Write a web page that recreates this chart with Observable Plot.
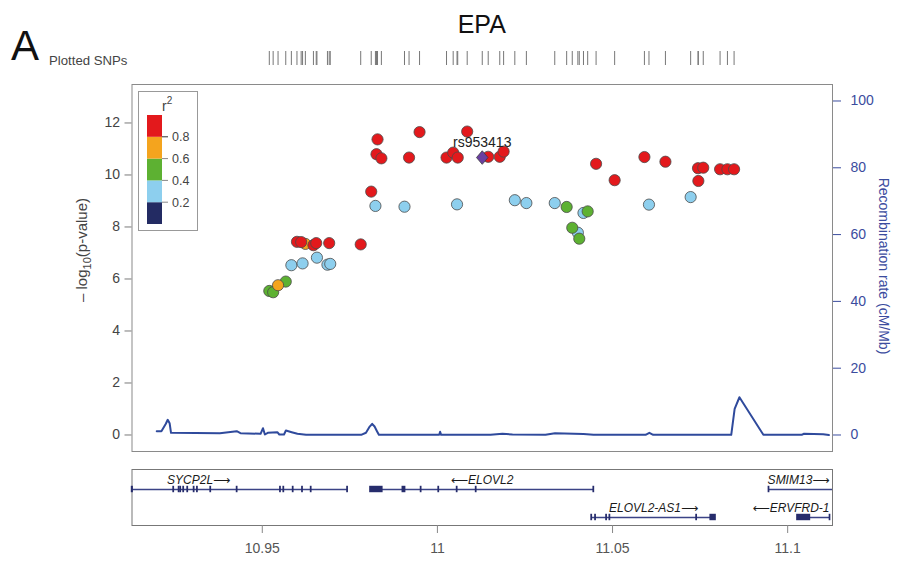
<!DOCTYPE html>
<html>
<head>
<meta charset="utf-8">
<script src="https://cdn.jsdelivr.net/npm/d3@7"></script>
<script src="https://cdn.jsdelivr.net/npm/@observablehq/plot@0.6"></script>
<style>
  body { margin: 0; background: #fff; font-family: 'Liberation Sans', Arial, sans-serif; }
  #chart { position: relative; width: 900px; height: 570px; overflow: hidden; background: #fff; }
  #chart > svg { position: absolute; left: 0; }
</style>
</head>
<body>
<div id="chart"></div>
<script>
// ---- Region shown (chr6, Mb) ----
const xDomain = [10.9128, 11.1128];

// ---- Association results: position (Mb), -log10(p), r² with the lead SNP ----
const snpPos = [
  10.9520, 10.9531, 10.9545, 10.9567, 10.9583, 10.9615, 10.9656, 10.9686, 10.9694,
  10.9599, 10.9611, 10.9623, 10.9646, 10.9654, 10.9691, 10.9781, 10.9811, 10.9823,
  10.9826, 10.9829, 10.9840, 10.9906, 10.9919, 10.9949, 11.0026, 11.0045, 11.0058,
  11.0056, 11.0085, 11.0145, 11.0178, 11.0189, 11.0221, 11.0254, 11.0335, 11.0369,
  11.0417, 11.0429, 11.0385, 11.0401, 11.0405, 11.0453, 11.0506, 11.0591, 11.0604,
  11.0651, 11.0723, 11.0744, 11.0759, 11.0745, 11.0807, 11.0828, 11.0847
];
const snpLogP = [
  5.54, 5.49, 5.76, 5.90, 6.53, 6.60, 6.82, 6.55, 6.58,
  7.43, 7.42, 7.35, 7.30, 7.38, 7.38, 7.33, 9.36, 8.81,
  10.80, 11.37, 10.64, 8.78, 10.67, 11.65, 10.67, 10.86, 10.67,
  8.87, 11.67, 10.70, 10.70, 10.90, 9.03, 8.92, 8.92, 8.77,
  8.54, 8.60, 7.97, 7.78, 7.55, 10.43, 9.80, 10.69, 8.86,
  10.51, 9.15, 10.26, 10.28, 9.77, 10.22, 10.22, 10.22
];
const snpR2 = [
  0.5, 0.5, 0.7, 0.5, 0.3, 0.3, 0.3, 0.3, 0.3,
  0.9, 0.9, 0.7, 0.9, 0.9, 0.9, 0.9, 0.9, 0.3,
  0.9, 0.9, 0.9, 0.3, 0.9, 0.9, 0.9, 0.9, 0.9,
  0.3, 0.9, 0.9, 0.9, 0.9, 0.3, 0.3, 0.3, 0.5,
  0.3, 0.5, 0.5, 0.3, 0.5, 0.9, 0.9, 0.9, 0.3,
  0.9, 0.3, 0.9, 0.9, 0.9, 0.9, 0.9, 0.9
];

// Index SNP
const leadName = "rs953413";
const leadPos = 11.0128;
const leadLogP = 10.67;

// r² legend classes
const r2Breaks = [0.2, 0.4, 0.6, 0.8];
const r2Colors = ["#232B63", "#8DCFEE", "#5DB132", "#F4A41E", "#E3191C"];

// ---- Recombination rate (cM/Mb) ----
const recPos = [
  10.91986, 10.92120, 10.92246, 10.92300, 10.92354, 10.92394, 10.93789, 10.94269,
  10.94377, 10.94951, 10.95020, 10.95074, 10.95157, 10.95429, 10.95486, 10.95620,
  10.95674, 10.95840, 10.96003, 10.96249, 10.97823, 10.97960, 10.98054, 10.98137,
  10.98206, 10.98274, 10.98329, 11.00051, 11.00077, 11.00106, 11.01514, 11.01857,
  11.02143, 11.03086, 11.03357, 11.04171, 11.04457, 11.05943, 11.06051, 11.06160,
  11.08389, 11.08486, 11.08623, 11.09306, 11.10400, 11.10466, 11.11014, 11.11177
];
const recRate = [
  1.14, 1.14, 3.35, 4.55, 3.53, 0.66, 0.54, 1.14,
  0.54, 0.36, 2.04, 0.15, 0.66, 0.84, 0.15, 0.15,
  1.35, 0.84, 0.36, 0.05, 0.05, 0.66, 2.34, 3.35,
  2.54, 1.14, 0.05, 0.05, 0.96, 0.05, 0.05, 0.36,
  0.15, 0.05, 0.54, 0.30, 0.05, 0.05, 0.66, 0.05,
  0.05, 7.84, 11.30, 0.05, 0.05, 0.36, 0.24, 0.00
];

// ---- Axis ticks ----
const pTicks = [0, 2, 4, 6, 8, 10, 12];
const recTicks = [0, 20, 40, 60, 80, 100];
const recTop = 12.846;               // -log10(p) level matching 100 cM/Mb
const xTicks = [10.95, 11, 11.05, 11.1];
const xTickLabels = ["10.95", "11", "11.05", "11.1"];

// ---- Genes (Mb) ----
const geneNames  = ["SYCP2L", "ELOVL2", "SMIM13", "ELOVL2-AS1", "ERVFRD-1"];
const geneStart  = [10.8893, 10.98086, 11.09466, 11.0440, 11.10277];
const geneEnd    = [10.97437, 11.04466, 11.1375, 11.07943, 11.11209];
const geneRow    = [1, 1, 1, 2, 2];
const geneStrand = ["+", "-", "+", "+", "-"];

// Exons: gene index, start, end (Mb)
const exonGene = [
  0,0,0,0,0,0,0,0,0,0,0,0,0,0,0,0,
  1,1,1,1,1,1,1,
  2,
  3,3,3,3,3,3,
  4,4
];
const exonStart = [
  10.9128, 10.92466, 10.92620, 10.92666, 10.92751, 10.92866, 10.93049, 10.93143,
  10.93523, 10.94277, 10.95514, 10.95609, 10.95877, 10.96143, 10.96391, 10.97430,
  10.98086, 10.99010, 10.99530, 11.00033, 11.00559, 11.01102, 11.04460,
  11.09462,
  11.04400, 11.04510, 11.04825, 11.04919, 11.07396, 11.07800,
  11.10277, 11.11205
];
const exonEnd = [
  10.9130, 10.92476, 10.92630, 10.92676, 10.92761, 10.92876, 10.93059, 10.93153,
  10.93533, 10.94287, 10.95524, 10.95619, 10.95887, 10.96153, 10.96401, 10.97440,
  10.98429, 10.99080, 10.99540, 11.00043, 11.00569, 11.01112, 11.04470,
  11.09472,
  11.04410, 11.04520, 11.04835, 11.04929, 11.07406, 11.07943,
  11.10637, 11.11213
];

// ---- Build tables ----
const snps = snpPos.map((x, i) => ({pos: x, logp: snpLogP[i], r2: snpR2[i]}))
  .sort((a, b) => a.r2 - b.r2);
const k = recTop / 100;
const genes = geneNames.map((name, i) => ({
  name, start: geneStart[i], end: geneEnd[i], row: geneRow[i], strand: geneStrand[i],
  label: geneStrand[i] === "+" ? name + "\u27F6" : "\u27F5" + name
}));
const exons = exonGene.map((g, i) => ({row: geneRow[g], start: exonStart[i], end: exonEnd[i]}));

const W = 900, ML = 131.5, MR = 68;
const font = "'Liberation Sans', Arial, sans-serif";
const geneFont = "'Liberation Sans', 'DejaVu Sans', Arial, sans-serif";
const chart = document.getElementById("chart");
const place = (svg, top) => { svg.style.top = top + "px"; chart.appendChild(svg); };

// Rhombus used for the index SNP
const rhombus = {
  draw(ctx, size) {
    const a = Math.sqrt(size / 1.7), b = 0.85 * a;
    ctx.moveTo(0, -a); ctx.lineTo(b, 0); ctx.lineTo(0, a); ctx.lineTo(-b, 0); ctx.closePath();
  }
};

// ---- Plotted SNPs rug ----
place(Plot.plot({
  width: W, height: 14, marginTop: 0, marginBottom: 0, marginLeft: ML, marginRight: MR,
  style: {fontFamily: font, background: "transparent", overflow: "visible"},
  x: {domain: xDomain, axis: null},
  marks: [
    Plot.tickX(snpPos.concat([leadPos]), {x: d => d, stroke: "#777", strokeWidth: 1})
  ]
}), 51);

// ---- Association panel ----
place(Plot.plot({
  width: W, height: 390, marginTop: 14, marginBottom: 9, marginLeft: ML, marginRight: MR,
  style: {fontFamily: font, background: "transparent", overflow: "visible", fontSize: "14px"},
  x: {domain: xDomain, axis: null},
  y: {domain: [-0.635, 13.48], axis: null},
  color: {type: "threshold", domain: r2Breaks, range: r2Colors},
  marks: [
    Plot.frame({stroke: "#8a8a8a"}),
    Plot.axisY(pTicks, {anchor: "left", tickSize: 7, tickPadding: 5, stroke: "#7a7a7a", fill: "#444", fontSize: 14, label: null}),
    Plot.axisY(recTicks.map(r => r * k), {anchor: "right", tickSize: 8, tickPadding: 10, color: "#3B4C9E",
      fontSize: 14, label: null, tickFormat: d => Math.round(d / k)}),
    Plot.line(recRate, {x: recPos, y: recRate.map(r => r * k), stroke: "#2F4A9C", strokeWidth: 2}),
    Plot.dot(snps, {x: "pos", y: "logp", fill: "r2", r: 5.6, stroke: "#4a4a4a", strokeWidth: 0.8}),
    Plot.dot([leadName], {x: [leadPos], y: [leadLogP], symbol: rhombus, r: 5, fill: "#6A3FA0", stroke: "#3d3d3d", strokeWidth: 0.8}),
    Plot.text([leadName], {x: [leadPos], y: [leadLogP], text: d => d, dy: -15.5, fontSize: 14, fill: "#222"})
  ]
}), 70);

// ---- Gene panel with genomic axis ----
const ctx = document.createElement("canvas").getContext("2d");
ctx.font = "italic 12px " + geneFont;
const pxPerMb = (W - ML - MR) / (xDomain[1] - xDomain[0]);
genes.forEach(g => {
  const half = (ctx.measureText(g.label).width / 2 + 3) / pxPerMb;
  const c = (g.start + g.end) / 2;
  g.labelX = Math.min(Math.max(c, xDomain[0] + half), xDomain[1] - half);
});

place(Plot.plot({
  width: W, height: 110, marginTop: 9, marginBottom: 45, marginLeft: ML, marginRight: MR,
  style: {fontFamily: font, background: "transparent", overflow: "visible"},
  x: {domain: xDomain, axis: null},
  y: {domain: [0.2857, 2.2857], reverse: true, axis: null},
  marks: [
    Plot.frame({stroke: "#777"}),
    Plot.ruleY(genes, {y: "row", x1: d => Math.max(d.start, xDomain[0]), x2: d => Math.min(d.end, xDomain[1]),
      stroke: "#3B4386", strokeWidth: 1.6}),
    Plot.rect(exons, {x1: "start", x2: "end", y1: d => d.row - 0.115, y2: d => d.row + 0.115,
      insetLeft: -0.7, insetRight: -0.7, fill: "#262C6C"}),
    Plot.text(genes, {x: "labelX", y: d => d.row - 0.33, text: "label", fontFamily: geneFont,
      fontStyle: "italic", fontSize: 12, fill: "#1a1a1a"}),
    Plot.axisX(xTicks, {anchor: "bottom", tickSize: 8, tickPadding: 10, stroke: "#888", fill: "#555", fontSize: 14,
      label: null, tickFormat: d => xTickLabels[xTicks.indexOf(d)]})
  ]
}), 460);

// ---- Titles, axis titles and r² legend ----
const ov = d3.create("svg").attr("width", W).attr("height", 570)
  .style("top", "0px").style("pointer-events", "none").style("font-family", font);

ov.append("text").attr("x", 481.75).attr("y", 33).attr("text-anchor", "middle")
  .attr("font-size", 25).attr("fill", "#111").text("EPA");
ov.append("text").attr("x", 11).attr("y", 60).attr("font-size", 42).attr("fill", "#111").text("A");
ov.append("text").attr("x", 49).attr("y", 65).attr("font-size", 13.2).attr("fill", "#444").text("Plotted SNPs");

const yl = ov.append("text").attr("transform", "translate(87,250) rotate(-90)")
  .attr("text-anchor", "middle").attr("font-size", 15).attr("fill", "#444");
yl.append("tspan").text("\u2013 log");
yl.append("tspan").attr("font-size", 11).attr("dy", 4).text("10");
yl.append("tspan").attr("dy", -4).text("(p-value)");

ov.append("text").attr("transform", "translate(879,266) rotate(90)")
  .attr("text-anchor", "middle").attr("font-size", 14).attr("fill", "#3B4C9E")
  .text("Recombination rate (cM/Mb)");

const lg = ov.append("g");
lg.append("rect").attr("x", 138.5).attr("y", 91.5).attr("width", 59).attr("height", 139)
  .attr("fill", "#fff").attr("stroke", "#999");
const barH = 21.8, barBottom = 224;
r2Colors.forEach((c, i) => {
  lg.append("rect").attr("x", 147).attr("y", barBottom - (i + 1) * barH)
    .attr("width", 15).attr("height", barH).attr("fill", c);
});
r2Breaks.forEach((b, i) => {
  const y = barBottom - (i + 1) * barH;
  lg.append("line").attr("x1", 162).attr("x2", 168).attr("y1", y).attr("y2", y)
    .attr("stroke", i === r2Breaks.length - 1 ? "#333" : "#888");
  lg.append("text").attr("x", 172).attr("y", y).attr("dy", "0.35em")
    .attr("font-size", 12.5).attr("fill", "#444").text(d3.format(".1f")(b));
});
const r2t = lg.append("text").attr("x", 162).attr("y", 111).attr("font-size", 14).attr("fill", "#444");
r2t.append("tspan").text("r");
r2t.append("tspan").attr("font-size", 10).attr("dy", -7).text("2");

chart.appendChild(ov.node());
</script>
</body>
</html>
